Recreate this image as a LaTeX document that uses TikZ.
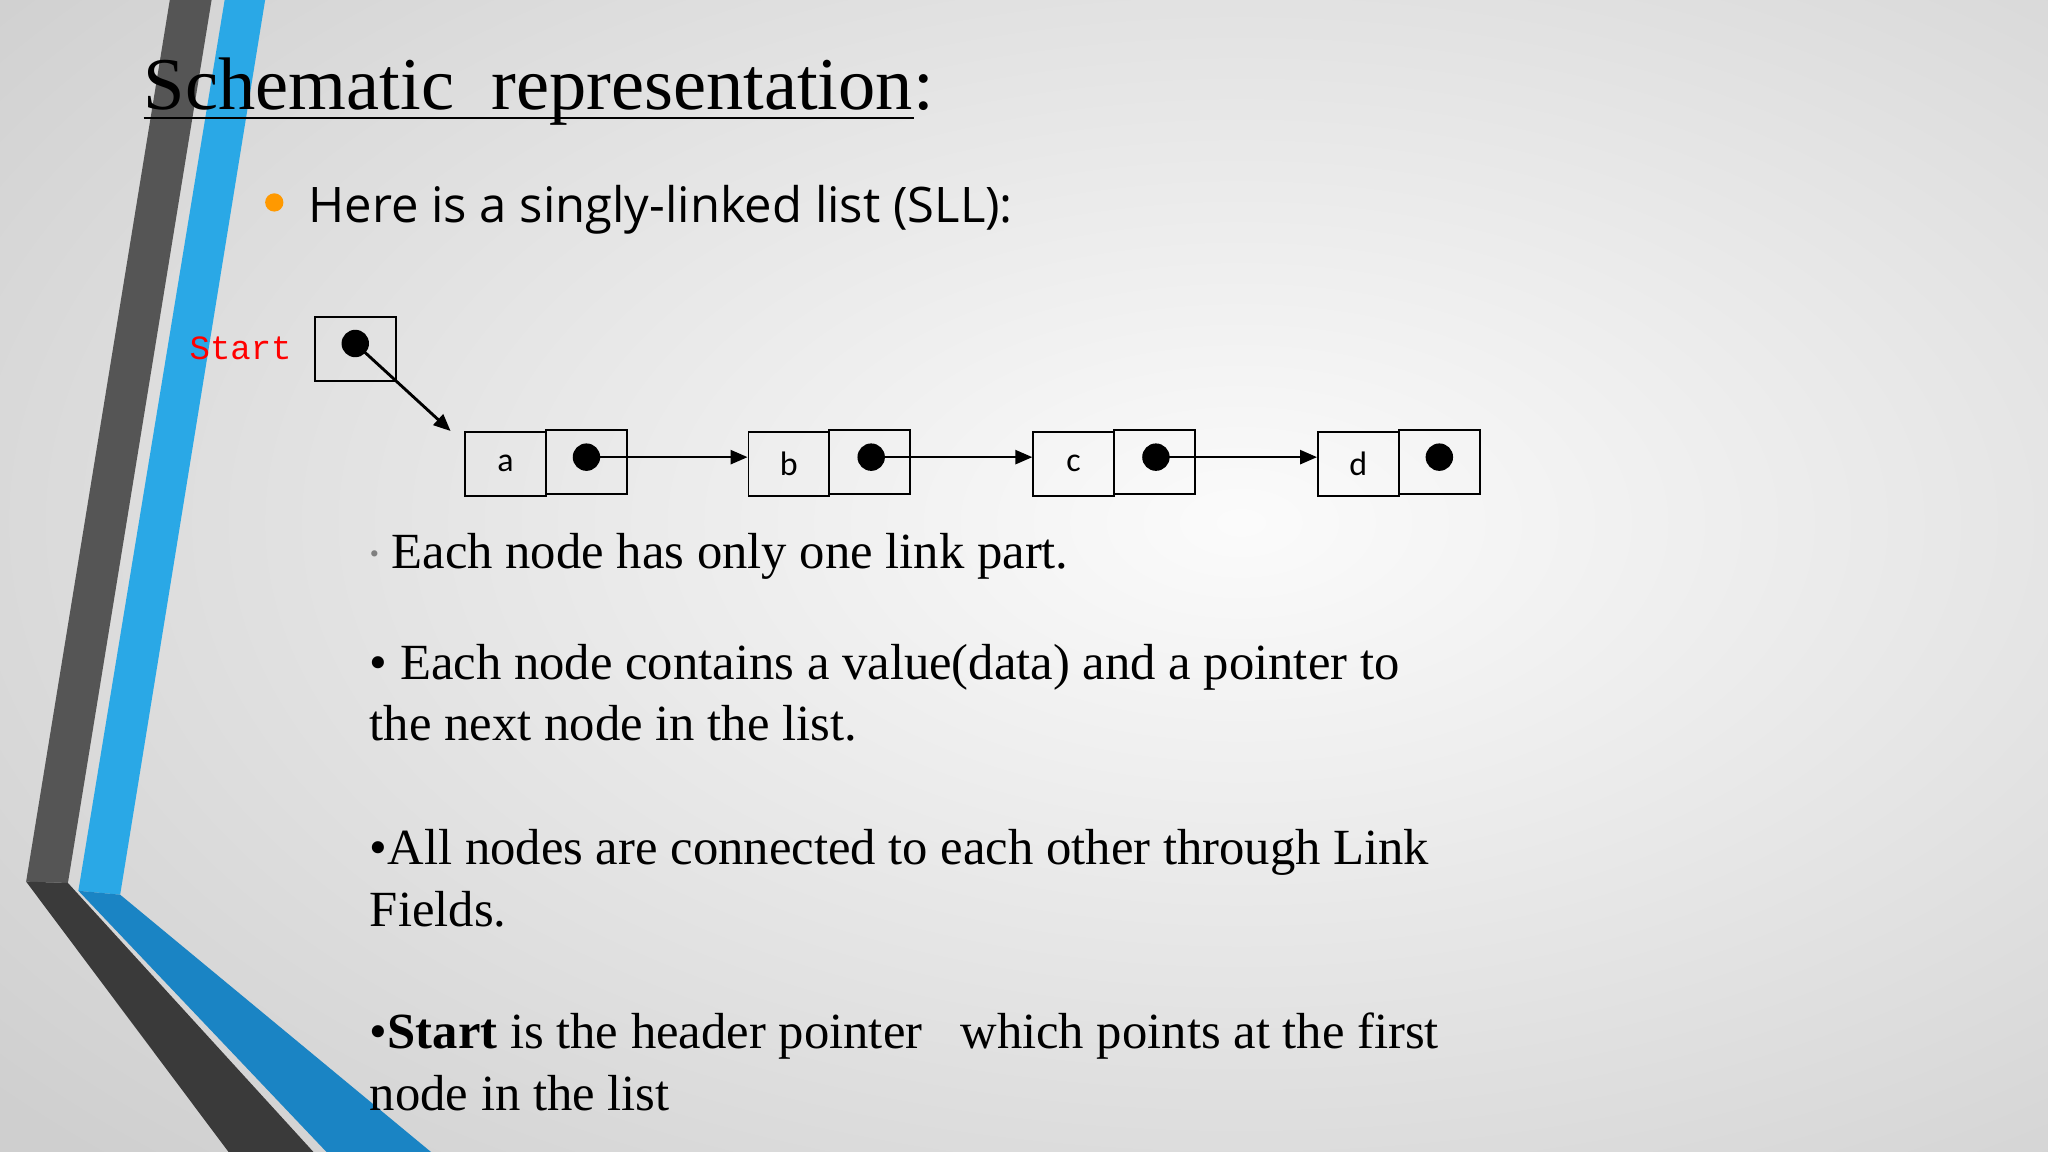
\documentclass[tikz,border=0pt]{standalone}
\usepackage{fontspec}
\setmainfont{Liberation Serif}
\newfontfamily\sansf{Carlito}
\newfontfamily\introf{Open Sans}
\newfontfamily\monof{Liberation Mono}
\usetikzlibrary{arrows.meta}
\definecolor{bluea}{HTML}{2AA8E6}
\definecolor{blueb}{HTML}{1A84C4}
\definecolor{darka}{HTML}{555555}
\definecolor{darkb}{HTML}{3A3A3A}
\tikzset{
 cell/.style={draw=black,line width=1.4pt,minimum width=62pt,minimum height=49pt,inner sep=0pt,font=\sansf\fontsize{26}{30}\selectfont},
 dot/.style={circle,fill=black,inner sep=0pt,minimum size=21pt},
 link/.style={line width=1.2pt,-{Triangle[length=13pt,width=11pt]}},
 body/.style={anchor=base west,font=\fontsize{38.8}{47}\selectfont,inner sep=0pt}
}
\begin{document}
\begin{tikzpicture}[x=1pt,y=-1pt]
\useasboundingbox (0,0) rectangle (1568,882);
\shade[inner color=white!97!gray, outer color=gray!38] (-300,-300) rectangle (2200,1100);
\clip (0,0) rectangle (1568,882);
% decoration
\fill[darka] (130,0) -- (162,0) -- (52,676) -- (20,675) -- cycle;
\fill[darkb] (20,675) -- (52,676) -- (240,882) -- (175,882) -- cycle;
\fill[bluea] (172,0) -- (203,0) -- (92,685) -- (60,682) -- cycle;
\fill[blueb] (60,682) -- (92,685) -- (330,882) -- (250,882) -- cycle;
% title
\node[anchor=base west,inner sep=0pt,font=\fontsize{57}{60}\selectfont] (title) at (110,84) {Schematic\ \ representation:};
\draw[line width=1.5pt] (110,90) -- (700,90);
% bullet
\fill[orange!80!yellow] (210,155) circle (7);
\node[anchor=base west,inner sep=0pt,font=\introf\fontsize{37.5}{40}\selectfont] (intro) at (236,170) {Here is a singly-linked list (SLL):};
% list
\node[anchor=base west,inner sep=0pt,text=red,font=\monof\fontsize{26}{30}\selectfont] (startl) at (145,275) {Start};
\node[cell] (s) at (272,267) {};
\node[dot] (sd) at (272,263) {};
\node[cell] (a) at (387,355) {a};
\node[cell] (ap) at (449,354) {};
\node[cell] (b) at (604,355) {b};
\node[cell] (bp) at (666,354) {};
\node[cell] (c) at (822,355) {c};
\node[cell] (cp) at (884,354) {};
\node[cell] (d) at (1040,355) {d};
\node[cell] (dp) at (1102,354) {};
\node[dot] (ad) at (449,350) {};
\node[dot] (bd) at (667,350) {};
\node[dot] (cd) at (885,350) {};
\node[dot] (dd) at (1102,350) {};
\coordinate (aa) at (345,330);
\draw[line width=2.2pt,-{Triangle[length=13pt,width=11pt]}] (sd.center) -- (aa);
\draw[link] (ad.center) -- (b.west |- ad.center);
\draw[link] (bd.center) -- (c.west |- bd.center);
\draw[link] (cd.center) -- (d.west |- cd.center);
% text
\node[body] (t1) at (283,435) {{\color{gray}\fontsize{20}{20}\selectfont\raisebox{4pt}{•}} Each node has only one link part.};
\node[body] (t2a) at (283,520) {• Each node contains a value(data) and a pointer to};
\node[body] (t2b) at (283,567) {the next node in the list.};
\node[body] (t3a) at (283,662) {•All nodes are connected to each other through Link};
\node[body] (t3b) at (283,709) {Fields.};
\node[body] (t4a) at (283,803) {•\textbf{Start} is the header pointer\ \ \ which points at the first};
\node[body] (t4b) at (283,850) {node in the list};
\end{tikzpicture}
\end{document}
